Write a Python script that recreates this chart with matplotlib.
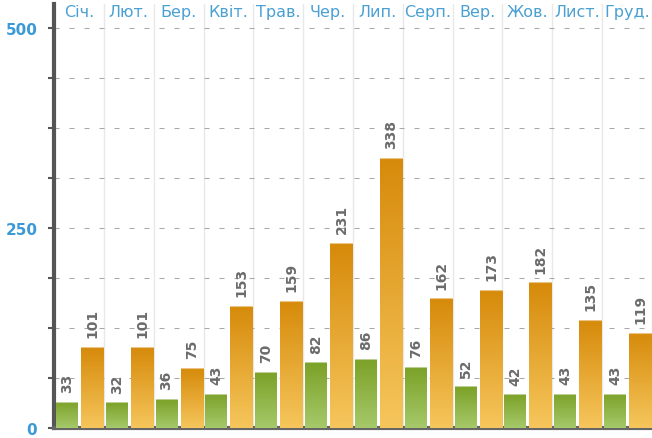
import matplotlib
matplotlib.use("Agg")
import matplotlib.pyplot as plt
import matplotlib.ticker as ticker
from matplotlib.colors import LinearSegmentedColormap
import numpy as np

months = ['Січ.', 'Лют.', 'Бер.', 'Квіт.', 'Трав.', 'Чер.',
          'Лип.', 'Серп.', 'Вер.', 'Жов.', 'Лист.', 'Груд.']
green_vals = [33, 32, 36, 43, 70, 82, 86, 76, 52, 42, 43, 43]
orange_vals = [101, 101, 75, 153, 159, 231, 338, 162, 173, 182, 135, 119]
yticks_labeled = [0, 250, 500]

plt.rcParams.update({
    "font.family": "DejaVu Sans",
})

fig = plt.figure(figsize=(6.52, 4.39), dpi=100)
ax = fig.add_axes([54 / 652, 10 / 439, (652 - 54) / 652, (439 - 15) / 439])

green_cmap = LinearSegmentedColormap.from_list('g', ['#a6c96a', '#7ba127'])
orange_cmap = LinearSegmentedColormap.from_list('o', ['#f6c65c', '#d68a0a'])
grad = np.linspace(0, 1, 256).reshape(-1, 1)

x = np.arange(len(months))
gbars = ax.bar(x + 0.04, green_vals, width=0.44, align='edge',
               color='none', edgecolor='none', zorder=3)
obars = ax.bar(x + 0.54, orange_vals, width=0.46, align='edge',
               color='none', edgecolor='none', zorder=3)

# gradient fill for each bar
for bars, cmap in [(gbars, green_cmap), (obars, orange_cmap)]:
    for p in bars:
        x0, w, h = p.get_x(), p.get_width(), p.get_height()
        im = ax.imshow(grad, extent=[x0, x0 + w, 0, h], origin='lower',
                       cmap=cmap, aspect='auto', zorder=3)
        im.set_clip_path(p)
        ax.plot([x0, x0 + w], [h, h], color='white', lw=0.8, alpha=0.5, zorder=4)

# value labels
for bars, vals in [(gbars, green_vals), (obars, orange_vals)]:
    for p, v in zip(bars, vals):
        ax.annotate(str(v), (p.get_x() + p.get_width() / 2, p.get_height()),
                    xytext=(0, 7), textcoords='offset points',
                    rotation=90, ha='center', va='bottom',
                    fontsize=10, fontweight='bold', color='#6b6b6b', zorder=5)

# month labels along the top
for i, m in enumerate(months):
    ax.text(i + 0.5, 521, m, ha='center', va='center', fontsize=11.5,
            color='#4aa0d2', zorder=5, clip_on=False)

ax.set_xlim(0, 598 / 50)
ax.set_ylim(0, 530)

# grid
ax.yaxis.set_major_locator(ticker.MultipleLocator(62.5))
ax.yaxis.set_major_formatter(ticker.FuncFormatter(
    lambda v, pos: '%d' % v if round(v) in yticks_labeled else ''))
ax.set_xticks(np.arange(1, len(months) + 1))
ax.set_xticklabels([])
ax.tick_params(axis='x', length=0)
ax.tick_params(axis='y', length=4, width=1.5, color='#555555', direction='out',
               labelsize=11, labelcolor='#3b9ad6', pad=8)
for lab in ax.get_yticklabels():
    lab.set_fontweight('bold')

ax.grid(axis='y', linestyle=(0, (4.8, 9.6)), color='#a8a8a8', lw=0.75, zorder=0)
ax.grid(axis='x', linestyle='-', color='#e8e8e8', lw=1, zorder=0)
ax.set_axisbelow(True)

for s in ['top', 'right']:
    ax.spines[s].set_visible(False)
ax.spines['left'].set_color('#555555')
ax.spines['left'].set_linewidth(3)
ax.spines['bottom'].set_color('#666666')
ax.spines['bottom'].set_linewidth(3)

fig.savefig('out.png', dpi=100)
